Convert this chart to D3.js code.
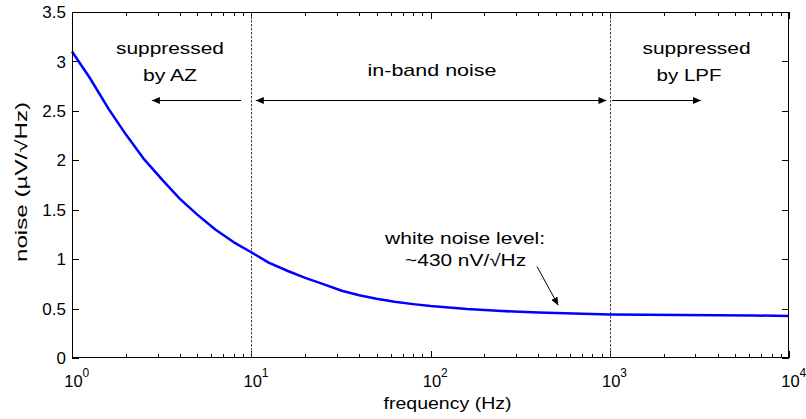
<!DOCTYPE html>
<html>
<head>
<meta charset="utf-8">
<script src="https://cdn.jsdelivr.net/npm/d3@7"></script>
<style>
  html, body { margin: 0; padding: 0; background: #fff; }
  svg { display: block; }
  text { font-family: "Liberation Sans", Arial, Helvetica, sans-serif; fill: #000; }
</style>
</head>
<body>
<svg id="chart" width="806" height="419"></svg>
<script>
// Noise spectral density of the amplifier (µV/√Hz) versus frequency (Hz)
const freqs = [1, 1.25, 1.6, 2, 2.5, 3.2, 4, 5, 6.3, 8, 10, 12.5, 16, 20, 25, 32, 40, 50, 63, 80,
               100, 160, 250, 400, 630, 1000, 1600, 2500, 4000, 6300, 10000];
const noise = [3.10, 2.84, 2.52, 2.26, 2.02, 1.80, 1.61, 1.45, 1.30, 1.17, 1.07, 0.965, 0.88, 0.81, 0.75, 0.68, 0.635, 0.60, 0.57, 0.545,
               0.525, 0.495, 0.475, 0.46, 0.45, 0.44, 0.437, 0.435, 0.432, 0.43, 0.425];

const yTicks = [0, 0.5, 1, 1.5, 2, 2.5, 3, 3.5];
const xTickExponents = [0, 1, 2, 3, 4];

// band boundaries (Hz): auto-zero corner and low-pass filter corner
const boundaries = [10, 1000];

// region labels: [text, frequency, noise level, width]
const regionLabels = [
  ["suppressed", 3.52, 3.073, 108],
  ["by AZ", 3.52, 2.80, 54],
  ["in-band noise", 102, 2.856, 129],
  ["suppressed", 3050, 3.073, 108],
  ["by LPF", 2770, 2.80, 65]
];
// region arrows: [from f, to f, level, double-headed]
const regionArrows = [
  [8.77, 2.79, 2.605, false],
  [10.6, 959, 2.605, true],
  [1030, 3230, 2.605, false]
];
const whiteLabel = [
  ["white noise level:", 156, 1.157, 160],
  ["~430 nV/\u221AHz", 157, 0.935, 121]
];
const whiteArrow = [[393, 0.925], [516, 0.533]];

const svg = d3.select("#chart");
const plotLeft = 72, plotRight = 789, plotTop = 12, plotBottom = 358;

const x = d3.scaleLog().domain([1, 1e4]).range([plotLeft, plotRight]);
const y = d3.scaleLinear().domain([0, 3.5]).range([plotBottom, plotTop]);

// arrowhead marker
const defs = svg.append("defs");
defs.append("marker")
  .attr("id", "head")
  .attr("viewBox", "0 0 8 7")
  .attr("refX", 8).attr("refY", 3.5)
  .attr("markerWidth", 8).attr("markerHeight", 7)
  .attr("markerUnits", "userSpaceOnUse")
  .attr("orient", "auto-start-reverse")
  .append("path").attr("d", "M0,0 L8,3.5 L0,7 Z").attr("fill", "#000");

// decade ticks
const minorTicks = [];
for (let e = 0; e < 4; e++) for (let k = 2; k <= 9; k++) minorTicks.push(k * Math.pow(10, e));
const majorTicks = xTickExponents.map(e => Math.pow(10, e));

const axes = svg.append("g").attr("class", "axes");

function xAxisTicks(g, vals, len, side) {
  const yy = side === "bottom" ? plotBottom : plotTop;
  const dir = side === "bottom" ? -1 : 1;
  g.selectAll(null).data(vals).enter().append("line")
    .attr("x1", d => Math.round(x(d)) + 0.5).attr("x2", d => Math.round(x(d)) + 0.5)
    .attr("y1", yy).attr("y2", yy + dir * len)
    .attr("stroke", "#000").attr("stroke-width", 1);
}
xAxisTicks(axes, minorTicks, 4, "bottom");
xAxisTicks(axes, minorTicks, 4, "top");
xAxisTicks(axes, majorTicks, 7, "bottom");
xAxisTicks(axes, majorTicks, 7, "top");

// y ticks on both sides
axes.selectAll(null).data(yTicks).enter().append("line")
  .attr("x1", plotLeft).attr("x2", plotLeft + 7)
  .attr("y1", d => Math.round(y(d)) + 0.5).attr("y2", d => Math.round(y(d)) + 0.5)
  .attr("stroke", "#000");
axes.selectAll(null).data(yTicks).enter().append("line")
  .attr("x1", plotRight).attr("x2", plotRight - 7)
  .attr("y1", d => Math.round(y(d)) + 0.5).attr("y2", d => Math.round(y(d)) + 0.5)
  .attr("stroke", "#000");

// y tick labels
axes.selectAll(null).data(yTicks).enter().append("text")
  .attr("x", plotLeft - 6).attr("y", d => y(d))
  .attr("dy", "0.36em")
  .attr("text-anchor", "end")
  .style("font-size", "17px")
  .text(d => String(d));

// x tick labels: 10 with superscript exponent
const xl = axes.selectAll(null).data(xTickExponents).enter().append("g");
xl.append("text")
  .attr("x", d => x(Math.pow(10, d)) + 1.5).attr("y", 387)
  .attr("text-anchor", "middle")
  .style("font-size", "16.5px")
  .text("10");
xl.append("text")
  .attr("x", d => x(Math.pow(10, d)) + 10.5).attr("y", 377)
  .style("font-size", "12px")
  .text(d => String(d));

// band boundaries
svg.selectAll(null).data(boundaries).enter().append("line")
  .attr("x1", d => Math.round(x(d)) + 0.5).attr("x2", d => Math.round(x(d)) + 0.5)
  .attr("y1", plotTop).attr("y2", plotBottom)
  .attr("stroke", "#444").attr("stroke-width", 1)
  .attr("stroke-dasharray", "2.5,1.5");

// noise curve
const line = d3.line().x((d, i) => x(freqs[i])).y(d => y(d));
svg.append("path")
  .datum(noise)
  .attr("d", line)
  .attr("fill", "none")
  .attr("stroke", "#0000ff")
  .attr("stroke-width", 2.5)
  .attr("stroke-linejoin", "round");

// plot frame
svg.append("rect")
  .attr("x", plotLeft + 0.5).attr("y", plotTop + 0.5)
  .attr("width", plotRight - plotLeft - 1).attr("height", plotBottom - plotTop - 1)
  .attr("fill", "none").attr("stroke", "#000").attr("stroke-width", 1);

// region arrows
svg.selectAll(null).data(regionArrows).enter().append("line")
  .attr("x1", d => x(d[0])).attr("x2", d => x(d[1]))
  .attr("y1", d => Math.round(y(d[2])) + 0.5).attr("y2", d => Math.round(y(d[2])) + 0.5)
  .attr("stroke", "#000").attr("stroke-width", 1)
  .attr("marker-end", "url(#head)")
  .attr("marker-start", d => d[3] ? "url(#head)" : null);

// region labels
svg.selectAll(null).data(regionLabels.concat(whiteLabel)).enter().append("text")
  .attr("x", d => x(d[1])).attr("y", d => y(d[2]))
  .attr("text-anchor", "middle")
  .attr("textLength", d => d[3])
  .attr("lengthAdjust", "spacingAndGlyphs")
  .style("font-size", "17px")
  .text(d => d[0]);

// white-noise pointer
svg.append("line")
  .attr("x1", x(whiteArrow[0][0])).attr("y1", y(whiteArrow[0][1]))
  .attr("x2", x(whiteArrow[1][0])).attr("y2", y(whiteArrow[1][1]))
  .attr("stroke", "#000").attr("stroke-width", 1)
  .attr("marker-end", "url(#head)");

// axis titles
svg.append("text")
  .attr("x", (plotLeft + plotRight) / 2 + 17).attr("y", 409)
  .attr("text-anchor", "middle")
  .attr("textLength", 128).attr("lengthAdjust", "spacingAndGlyphs")
  .style("font-size", "16.5px")
  .text("frequency (Hz)");

svg.append("text")
  .attr("transform", `translate(27,${(plotTop + plotBottom) / 2 - 3}) rotate(-90)`)
  .attr("text-anchor", "middle")
  .attr("textLength", 160).attr("lengthAdjust", "spacingAndGlyphs")
  .style("font-size", "16.5px")
  .text("noise (\u00B5V/\u221AHz)");
</script>
</body>
</html>
